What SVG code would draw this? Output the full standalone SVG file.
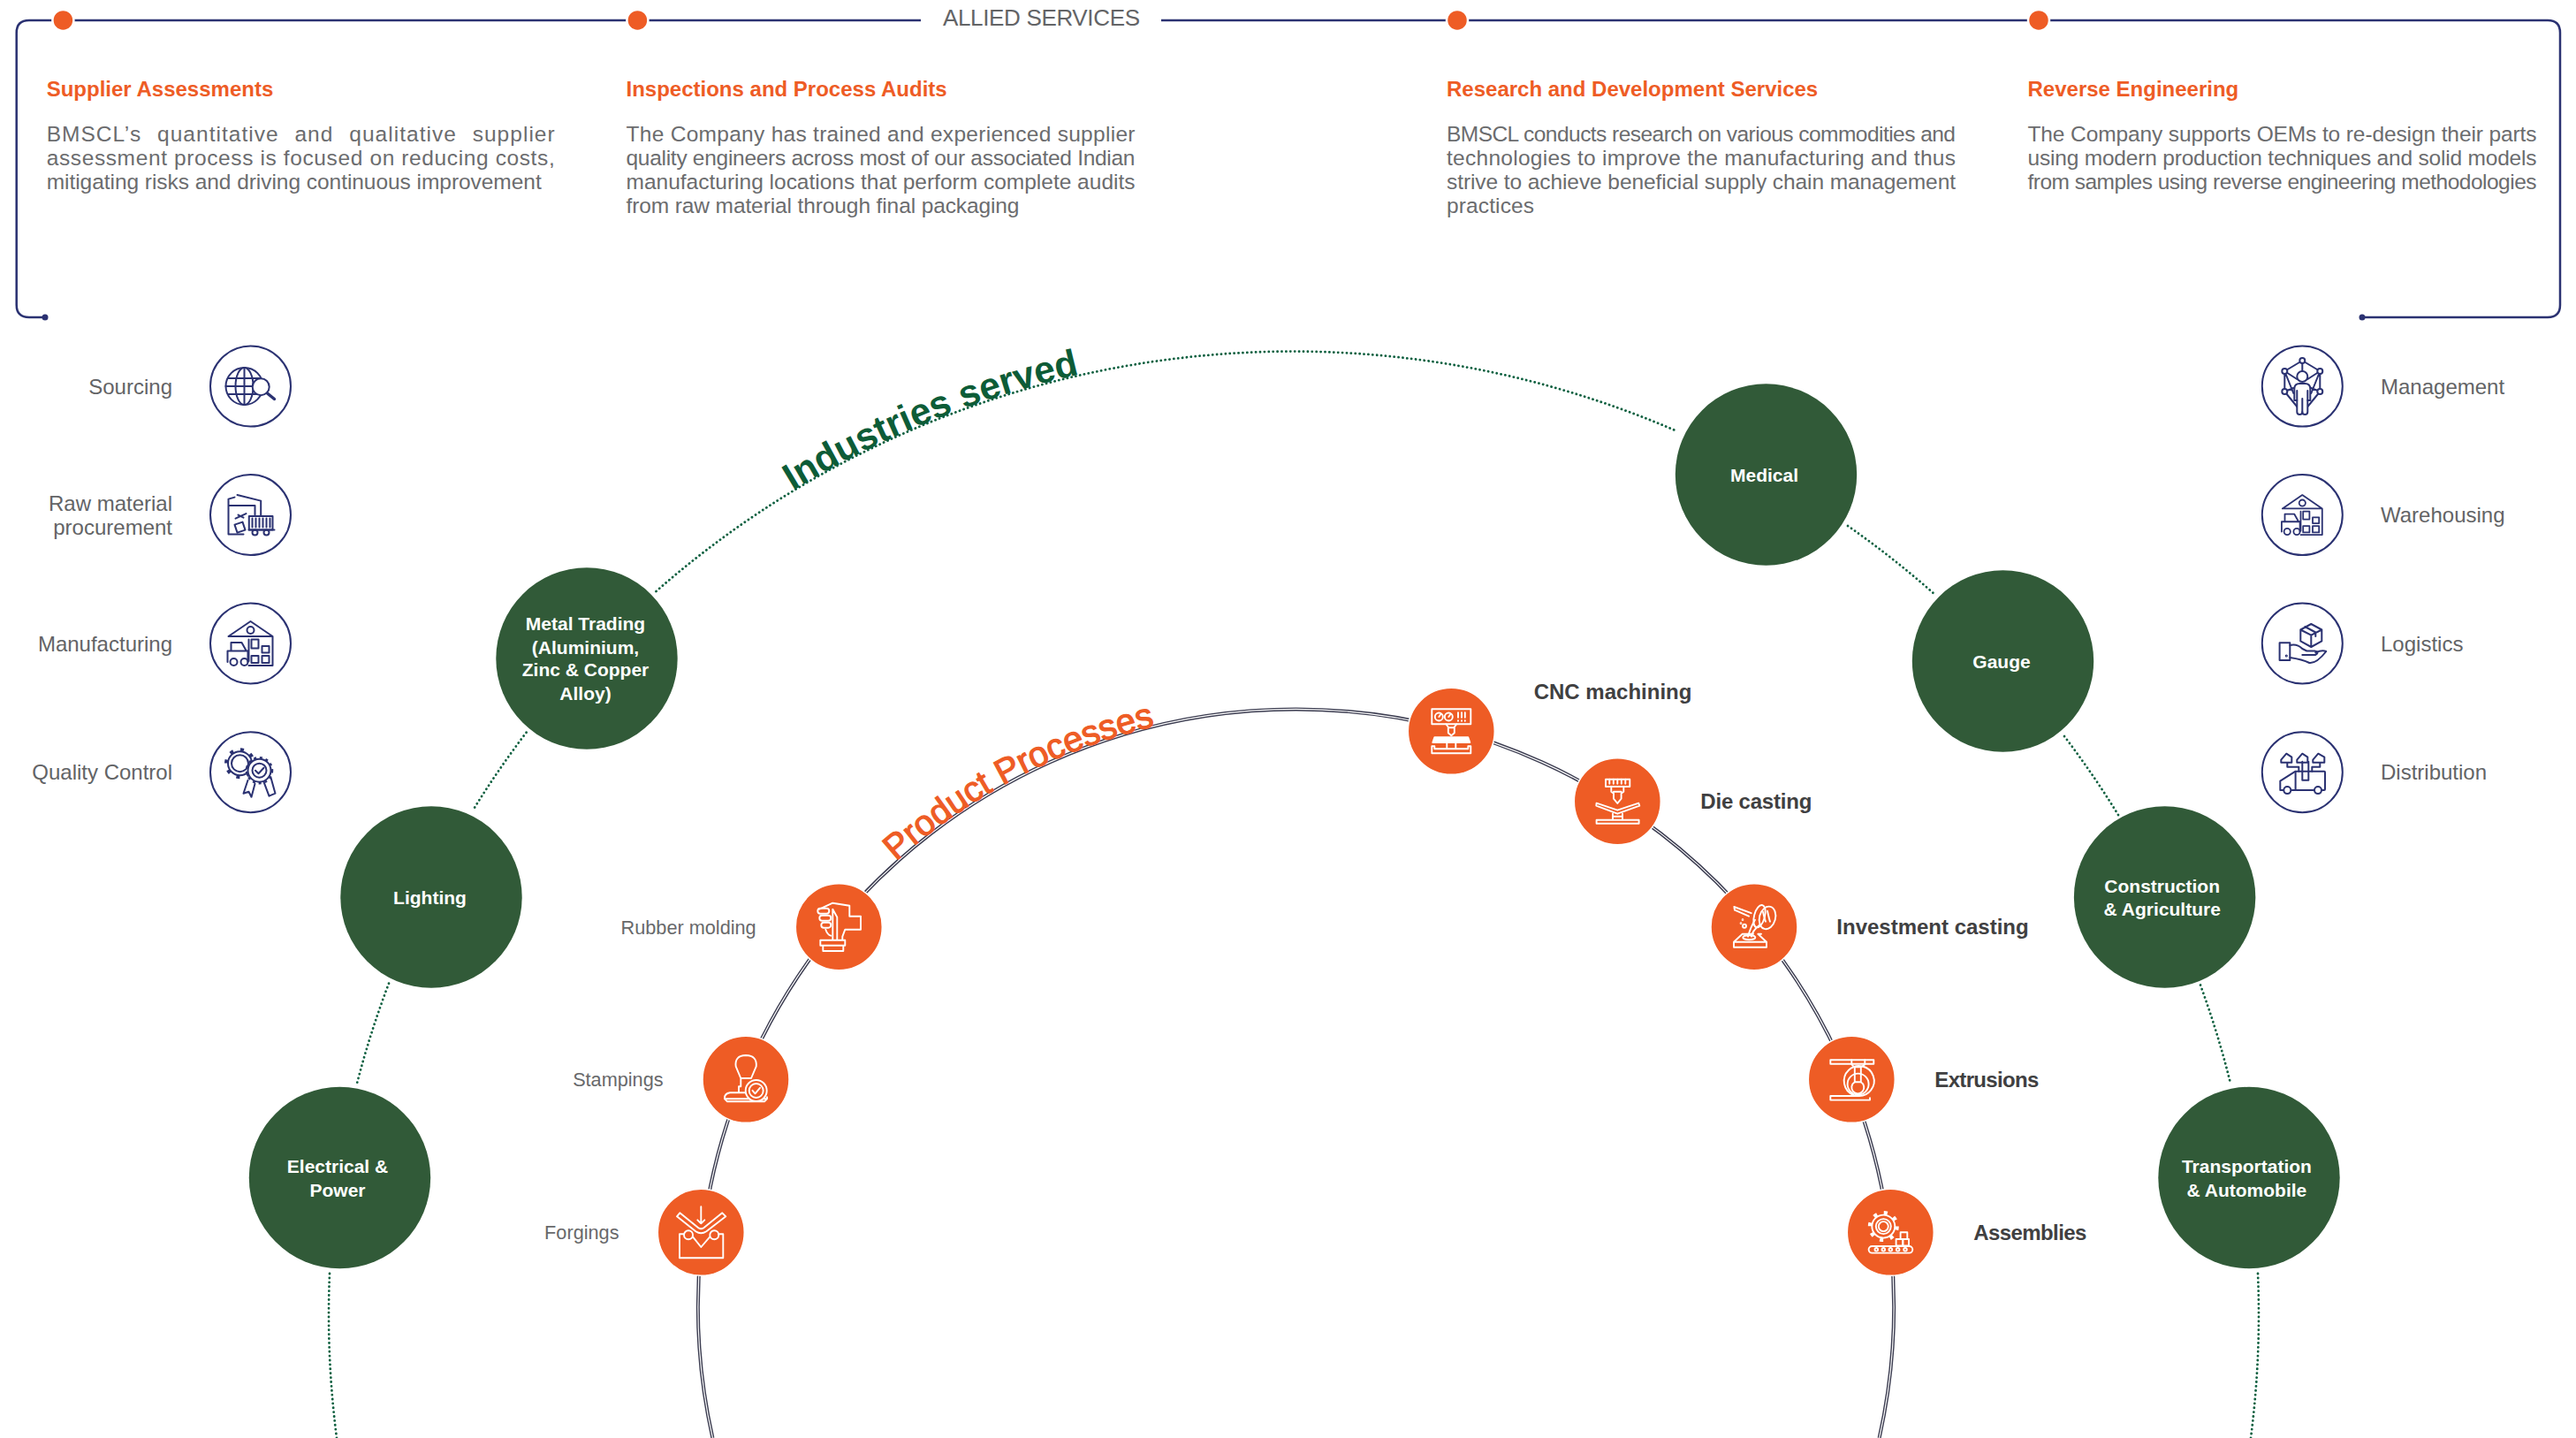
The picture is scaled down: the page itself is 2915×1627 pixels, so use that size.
<svg xmlns="http://www.w3.org/2000/svg" xmlns:xlink="http://www.w3.org/1999/xlink" width="2915" height="1627" viewBox="0 0 2915 1627">
<style>
text{font-family:"Liberation Sans",Arial,sans-serif}
.h{font-size:24px;font-weight:700;fill:#ee5c25}
.b{font-size:24.5px;fill:#6b6c6e}
.s{font-size:24px;fill:#636466}
.pb{font-size:24px;font-weight:700;fill:#404041}
.pl{font-size:21.7px;fill:#68696b}
.g{font-size:21px;font-weight:700;fill:#fff;text-anchor:middle}
.gc{fill:#315a38}
.oc{fill:#ee5c25;stroke:#fff;stroke-width:1.5}
.sc{fill:#fff;stroke:#2b3272;stroke-width:2}
.dot{fill:none;stroke:#0e6040;stroke-width:2.8;stroke-linecap:round;stroke-dasharray:.1 4.8}
.nv{fill:none;stroke:#2b3272;stroke-width:2;stroke-linejoin:round;stroke-linecap:round}
.wh{fill:none;stroke:#fff;stroke-width:1.9;stroke-linejoin:round;stroke-linecap:round}
</style>
<defs>
<path id="tpI" d="M891 559A1094 1094 0 0 1 1465 396"/>
<path id="tpP" d="M1008 980A677 677 0 0 1 1466.500 803"/>
<g id="wh-icon">
<path d="M-25-8L0-25L25-8H-25M25-8V25H-2"/><circle cy="-15" r="4"/>
<path d="M-22 8V-1H-10L-5 8M-26 21V8.500H-3V21M-2-4.500V20"/>
<rect x="1" y="-4.500" width="8" height="10"/><rect x="13" y="3" width="8" height="7.500"/><rect x="1" y="14" width="8" height="8"/><rect x="13" y="14" width="8" height="8"/>
<circle cx="-19" cy="21" r="4"/><circle cx="-7" cy="21" r="4"/>
</g>
</defs>
<g id="connectors">
<path id="frame" d="M51 359H33Q18.700 359 18.700 345V37Q18.700 22.900 33 22.900H1042M1314 22.900H2883Q2897 22.900 2897 37V345Q2897 359 2883 359H2673" fill="none" stroke="#2b3272" stroke-width="2.500"/>
<circle cx="51" cy="359" r="3.500" fill="#2b3272"/><circle cx="2673" cy="359" r="3.500" fill="#2b3272"/>
<path class="dot" d="M742.500 669A1092 1092 0 0 1 1898 488"/>
<path class="dot" d="M595.600 828.700A1092 1092 0 0 0 535 917"/>
<path class="dot" d="M440 1112.600A1092 1092 0 0 0 404 1225.600"/>
<path class="dot" d="M373 1441A1092 1092 0 0 0 381 1627"/>
<path class="dot" d="M2091 595A1092 1092 0 0 1 2190 673"/>
<path class="dot" d="M2336 833A1092 1092 0 0 1 2397 922"/>
<path class="dot" d="M2490 1114.500A1092 1092 0 0 1 2524 1225.600"/>
<path class="dot" d="M2555 1441A1092 1092 0 0 1 2547 1627"/>
<path d="M806.400 1627A676.500 676.500 0 1 1 2126.600 1627" fill="none" stroke="#3b3c50" stroke-width="4"/>
<path d="M806.400 1627A676.500 676.500 0 1 1 2126.600 1627" fill="none" stroke="#fff" stroke-width="1.200"/>
</g>
<g id="allied-services">
<text x="1067" y="29" font-size="26" fill="#636466" textLength="223">ALLIED SERVICES</text>
<g fill="#ee5c25" stroke="#fff" stroke-width="2.500"><circle cx="71.400" cy="22.900" r="12"/><circle cx="721.400" cy="22.900" r="12"/><circle cx="1649" cy="22.900" r="12"/><circle cx="2307" cy="22.900" r="12"/></g>
<g id="supplier-assessments">
<text class="h" x="52.700" y="109">Supplier Assessments</text>
<text class="b" x="52.700" y="160" textLength="575" word-spacing="10">BMSCL’s quantitative and qualitative supplier</text>
<text class="b" x="52.700" y="187.300" textLength="575">assessment process is focused on reducing costs,</text>
<text class="b" x="52.700" y="214.300" textLength="560">mitigating risks and driving continuous improvement</text>
</g>
<g id="inspections">
<text class="h" x="708.500" y="109">Inspections and Process Audits</text>
<text class="b" x="708.500" y="160" textLength="576">The Company has trained and experienced supplier</text>
<text class="b" x="708.500" y="187.300" textLength="576">quality engineers across most of our associated Indian</text>
<text class="b" x="708.500" y="214.300" textLength="576">manufacturing locations that perform complete audits</text>
<text class="b" x="708.500" y="241.300" textLength="445">from raw material through final packaging</text>
</g>
<g id="research">
<text class="h" x="1637" y="109">Research and Development Services</text>
<text class="b" x="1637" y="160" textLength="576">BMSCL  conducts research on various commodities and</text>
<text class="b" x="1637" y="187.300" textLength="576">technologies to improve the manufacturing and thus</text>
<text class="b" x="1637" y="214.300" textLength="576">strive to achieve beneficial supply chain management</text>
<text class="b" x="1637" y="241.300" textLength="99">practices</text>
</g>
<g id="reverse">
<text class="h" x="2294.500" y="109">Reverse Engineering</text>
<text class="b" x="2294.500" y="160" textLength="576">The Company supports OEMs to re-design their parts</text>
<text class="b" x="2294.500" y="187.300" textLength="576">using modern production techniques and solid models</text>
<text class="b" x="2294.500" y="214.300" textLength="576">from samples using reverse engineering methodologies</text>
</g>
</g>
<text id="industries-title" font-size="42.500" font-weight="700" fill="#0d5c37"><textPath xlink:href="#tpI" href="#tpI" startOffset="7">Industries served</textPath></text>
<text id="processes-title" font-size="39.800" fill="#ee5c25" stroke="#ee5c25" stroke-width="1.200"><textPath xlink:href="#tpP" href="#tpP" startOffset="8">Product Processes</textPath></text>

<g id="node-sourcing"><text class="s" x="195" y="445.500" text-anchor="end">Sourcing</text><circle class="sc" cx="283.500" cy="437" r="45.500"/>
<g class="nv" transform="translate(283.500 437)"><circle cx="-7" r="21"/><ellipse cx="-7" rx="10" ry="21"/><path d="M-28 0H14M-25-9H10M-25 9H8M-7-21V21"/><circle cx="11.700" cy=".7" r="9.500" fill="#fff"/><path d="M19 8L27 14.500" stroke-width="3.500"/></g></g>
<g id="node-raw-material"><text class="s" x="195" y="578" text-anchor="end">Raw material</text><text class="s" x="195" y="604.500" text-anchor="end">procurement</text><circle class="sc" cx="283.500" cy="582.600" r="45.500"/>
<g class="nv" transform="translate(283.500 582.600)"><path d="M-25 22V-18L-18-20M-15-22.600L11.700-16V.4M-25-10.700H5V0M-25 22H-8"/><rect x="-1.700" y="1.500" width="26.700" height="15.500"/><path d="M2 4V14M6 4V14M10 4V14M14 4V14M18 4V14M22 4V14M-2 17H27"/><circle cx="5" cy="20" r="3"/><circle cx="18" cy="20" r="3"/><path d="M-18 11L-9 8L-6 17L-15 20ZM-17 4L-5-1.500M-14 0L-8 3"/></g></g>
<g id="node-manufacturing"><text class="s" x="195" y="737" text-anchor="end">Manufacturing</text><circle class="sc" cx="283.500" cy="728" r="45.500"/>
<use href="#wh-icon" class="nv" transform="translate(283.500 728)"/></g>
<g id="node-quality"><text class="s" x="195" y="882" text-anchor="end">Quality Control</text><circle class="sc" cx="283.500" cy="873.700" r="45.500"/>
<g class="nv" transform="translate(283.500 873.700)"><circle cx="-12" cy="-10" r="9.500"/><circle cx="-12" cy="-10" r="13.500"/><circle cx="-12" cy="-10" r="15.500" stroke-width="4" stroke-linecap="butt" stroke-dasharray="4 8.170"/><circle cx="10" cy="-2" r="13" fill="#fff"/><circle cx="10" cy="-2" r="14.500" stroke-width="2.500" stroke-linecap="butt" stroke-dasharray="3 3.830"/><circle cx="10" cy="-2" r="8"/><path d="M5.500-2L9 1.500L15-5M-3 9L-8 24L-2 22L1 28L5 13M15 11L21 27L28 24L23 6"/></g></g>

<g id="node-management"><circle class="sc" cx="2605.300" cy="437" r="45.500"/><text class="s" x="2694" y="445.500">Management</text>
<g class="nv" transform="translate(2605.300 437)"><path d="M0-29L-20-17V6L-2 28M0-29L20-17V6L2 28M-20-17L-6-8M20-17L6-8M0-26V-17M-20 6L-10 2M20 6L10 2M-20-17L-10 8M20-17L10 8"/><g fill="#fff"><circle cy="-29" r="3"/><circle cx="-20" cy="-17" r="3"/><circle cx="20" cy="-17" r="3"/><circle cx="-20" cy="6" r="3"/><circle cx="20" cy="6" r="3"/><circle cy="-11" r="6"/><path d="M-9 16V3Q-9-3-3-3H3Q9-3 9 3V16L6 16V29Q6 32 3 32Q0 32 0 29Q0 32-3 32Q-6 32-6 29V16Z"/></g><path d="M0 14V29M-6 5V16M6 5V16"/></g></g>
<g id="node-warehousing"><circle class="sc" cx="2605.300" cy="582.600" r="45.500"/><text class="s" x="2694" y="591">Warehousing</text>
<use href="#wh-icon" class="nv" transform="translate(2605.300 582.600) scale(.9)"/></g>
<g id="node-logistics"><circle class="sc" cx="2605.300" cy="728" r="45.500"/><text class="s" x="2694" y="737">Logistics</text>
<g class="nv" transform="translate(2605.300 728)"><path d="M10-22L22-15.500V-2.600L10 4L-2-2.600V-15.500ZM-2-15.500L10-9.300L22-15.500M10-9.300V4M3-19L15-12.500V-8"/><rect x="-25.700" y="-.7" width="11.700" height="19.700"/><path d="M-14 2Q-6 0 0 6L5 8.500H14Q20 10 15 13H0M-14 16Q0 18 8 22Q16 23 27 9Q22 7 15 10.500"/><circle cx="-18" cy="14" r=".6"/></g></g>
<g id="node-distribution"><circle class="sc" cx="2605.300" cy="873.700" r="45.500"/><text class="s" x="2694" y="882">Distribution</text>
<g class="nv" transform="translate(2605.300 873.700)"><rect x="-7.700" y="-1" width="33.400" height="21.400" rx="1"/><path d="M-7.700 20.400H-25V10L-7.700-1M0-1V9H7V-1M0-1V-12M7-1V-12M-4-1V-6H-17V-11M11-1V-6H20V-11M-24-14L-18-21L-12-17V-11H-24ZM-6-14L0-21L6-17V-11H-6ZM12-14L18-21L25-17V-11H12Z"/><circle cx="-17" cy="20.400" r="4" fill="#fff"/><circle cx="17.700" cy="20.400" r="4" fill="#fff"/></g></g>

<g id="node-medical"><circle class="gc" cx="1998.500" cy="537" r="102.700"/><text class="g" x="1996.500" y="544.500">Medical</text></g>
<g id="node-gauge"><circle class="gc" cx="2266.500" cy="748" r="102.700"/><text class="g" x="2265" y="756">Gauge</text></g>
<g id="node-metal"><circle class="gc" cx="664" cy="745" r="102.700"/><text class="g" x="662.500" y="713.400">Metal Trading</text><text class="g" x="662.500" y="739.700">(Aluminium,</text><text class="g" x="662.500" y="765.400">Zinc &amp; Copper</text><text class="g" x="662.500" y="792.400">Alloy)</text></g>
<g id="node-lighting"><circle class="gc" cx="488" cy="1015" r="102.700"/><text class="g" x="486.500" y="1023">Lighting</text></g>
<g id="node-electrical"><circle class="gc" cx="384.500" cy="1332.500" r="102.700"/><text class="g" x="382" y="1327.400">Electrical &amp;</text><text class="g" x="382" y="1354.400">Power</text></g>
<g id="node-construction"><circle class="gc" cx="2449.600" cy="1015" r="102.700"/><text class="g" x="2446.700" y="1010.300">Construction</text><text class="g" x="2446.700" y="1036.300">&amp; Agriculture</text></g>
<g id="node-transportation"><circle class="gc" cx="2545" cy="1332.500" r="102.700"/><text class="g" x="2542.400" y="1327.400">Transportation</text><text class="g" x="2542.400" y="1354.400">&amp; Automobile</text></g>

<g id="node-cnc"><circle class="oc" cx="1642.300" cy="827.300" r="49"/><text class="pb" x="1735.700" y="791">CNC machining</text>
<g class="wh" transform="translate(1642.300 827.300)"><rect x="-22" y="-25" width="44" height="17"/><circle cx="-14" cy="-16.300" r="4.500"/><circle cx="-3" cy="-16.300" r="4.500"/><path d="M-14-16.300L-12-19M-3-16.300L-1-19M7.700-21V-15.500M11.700-21V-15.500M15.500-21V-15.500M7.700-12V-11.500M11.700-12V-11.500M15.500-12V-11.500M-6-8L-3-4H3L6-8M-3.500-4V2L0 5L3.500 2V-4"/><path d="M-19 7H19L21 12.700H-21Z" fill="#fff"/><path d="M-22 17V25H22V17H19V20H-19V17ZM-5 12.700V20M5 12.700V20"/></g></g>
<g id="node-die"><circle class="oc" cx="1830.300" cy="906.700" r="49"/><text class="pb" x="1924.300" y="915" textLength="126">Die casting</text>
<g class="wh" transform="translate(1830.300 906.700)"><rect x="-13.300" y="-25" width="27.300" height="8.300"/><path d="M-9-25V-20M-4.500-25V-20M0-25V-20M4.500-25V-20M9-25V-20M-7-16.700V-11L-4.300-9V-3L0 2.300L4.300-3V-9L7-11V-16.700M-4.300-11H4.300M-23.700 2L0 10L24 2L25 5L0 14L-24 5ZM-5.300 14V20.700M5.700 14V20.700M-5 17H5"/><rect x="-23.700" y="21" width="48" height="4"/></g></g>
<g id="node-investment"><circle class="oc" cx="1985" cy="1048.700" r="49"/><text class="pb" x="2078.300" y="1057">Investment casting</text>
<g class="wh" transform="translate(1985 1048.700)"><path d="M-23 17L-13.300 8H-1M8 8H4.300L14 17V23H-23V17H14"/><ellipse cx="-5.700" cy="12" rx="7" ry="2.500"/><path d="M-22.700-22.700L-3.300-15.500M-22.700-22.700L-22-19L-6-12"/><ellipse cx="15" cy="-10.300" rx="9" ry="13" transform="rotate(15 15 -10.300)"/><ellipse cx="6" cy="-12" rx="6" ry="13" transform="rotate(15 6 -12)"/><path d="M10-17Q12-8 13-6M15-18Q17-9 18-6M1-8Q-4 0-7 11M6-2Q-2 4-3 11"/><circle cx="-11" cy="-1" r="2"/><circle cx="-13" cy="-8" r=".4"/><circle cx="-15" cy="-4" r=".4"/></g></g>
<g id="node-extrusions"><circle class="oc" cx="2095.300" cy="1221.300" r="49"/><text class="pb" x="2189.300" y="1230" textLength="118">Extrusions</text>
<g class="wh" transform="translate(2095.300 1221.300)"><rect x="-24" y="-22" width="49" height="4.500"/><path d="M0-22V-17L3-14H11L15-17V-22M3.500-14V3H10.500V-14"/><path d="M-24 18.700H7A17 17 0 1 0 2 17.500M-24 18.700V23.300H20.700V21"/><circle cx="7.300" cy="5.300" r="12"/><path d="M3.500 3A7 7 0 1 0 10.500 3"/></g></g>
<g id="node-assemblies"><circle class="oc" cx="2139.300" cy="1394.300" r="49"/><text class="pb" x="2233.300" y="1403" textLength="128">Assemblies</text>
<g class="wh" transform="translate(2139.300 1394.300)"><circle cx="-8" cy="-6.700" r="13"/><circle cx="-8" cy="-6.700" r="8.500"/><circle cx="-8" cy="-6.700" r="5.500"/><circle cx="-8" cy="-6.700" r="15" stroke-width="5" stroke-linecap="butt" stroke-dasharray="4 7.780"/><rect x="11.300" width="7.700" height="7.700"/><rect x="6.300" y="7.700" width="7.700" height="7.400"/><rect x="14" y="7.700" width="6.700" height="7.400"/><rect x="-24.700" y="15.700" width="49.700" height="7.600" rx="3.800"/><circle cx="-16" cy="19.500" r="1.800"/><circle cx="-8" cy="19.500" r="1.800"/><circle cy="19.500" r="1.800"/><circle cx="8.300" cy="19.500" r="1.800"/><circle cx="16.700" cy="19.500" r="1.800"/></g></g>
<g id="node-rubber"><text class="pl" x="855.700" y="1056.800" text-anchor="end">Rubber molding</text><circle class="oc" cx="949.300" cy="1048.700" r="49"/>
<g class="wh" stroke-width="2.600" transform="translate(949.300 1048.700)"><path d="M-21 15H7V21H-21ZM-18 21H5V27.300H-18ZM-7 15V-20L-2-11V15M-7-27L12-24V-12H24.700V3H7L4 11V15M-7-27L-22-20"/><rect x="-24" y="-21" width="13" height="6" rx="3"/><rect x="-22" y="-13" width="13" height="6" rx="3"/><rect x="-20" y="-5" width="11" height="6" rx="3"/><path d="M-15 3Q-13 9-9 10"/></g></g>
<g id="node-stampings"><text class="pl" x="750.600" y="1229.300" text-anchor="end">Stampings</text><circle class="oc" cx="844" cy="1221.300" r="49"/>
<g class="wh" transform="translate(844 1221.300)"><path d="M-5.700-1.300L-11.300-14.700Q-13-27 0-27.300Q13-27 11.700-14.700L6-1.300ZM-5.700-1.300V8H-8V15H-18Q-24 16-24 21V22H24V20M-24 22L-21 25H21L24 22M-8 15H2"/><circle cx="11.700" cy="12.700" r="12" fill="#ee5c25"/><circle cx="11.700" cy="12.700" r="8"/><path d="M7.500 12.500L10.500 16L16 9.500"/></g></g>
<g id="node-forgings"><text class="pl" x="700.500" y="1402.300" text-anchor="end">Forgings</text><circle class="oc" cx="793.300" cy="1394.300" r="49"/>
<g class="wh" transform="translate(793.300 1394.300)"><path d="M0-29V-10M-4-14L0-10L4-14M-27.300-18L-24-22L-3-5Q0-3 3-5L24-22L28-18L6-1Q0 3-6-1Z"/><path d="M-24.300 2V29H25V2H20M-20 2H-24.300M-9.300 5L0 16.700L10 5"/><circle cx="-14.300" cy="3" r="5"/><circle cx="15" cy="3" r="5"/></g></g>
</svg>
